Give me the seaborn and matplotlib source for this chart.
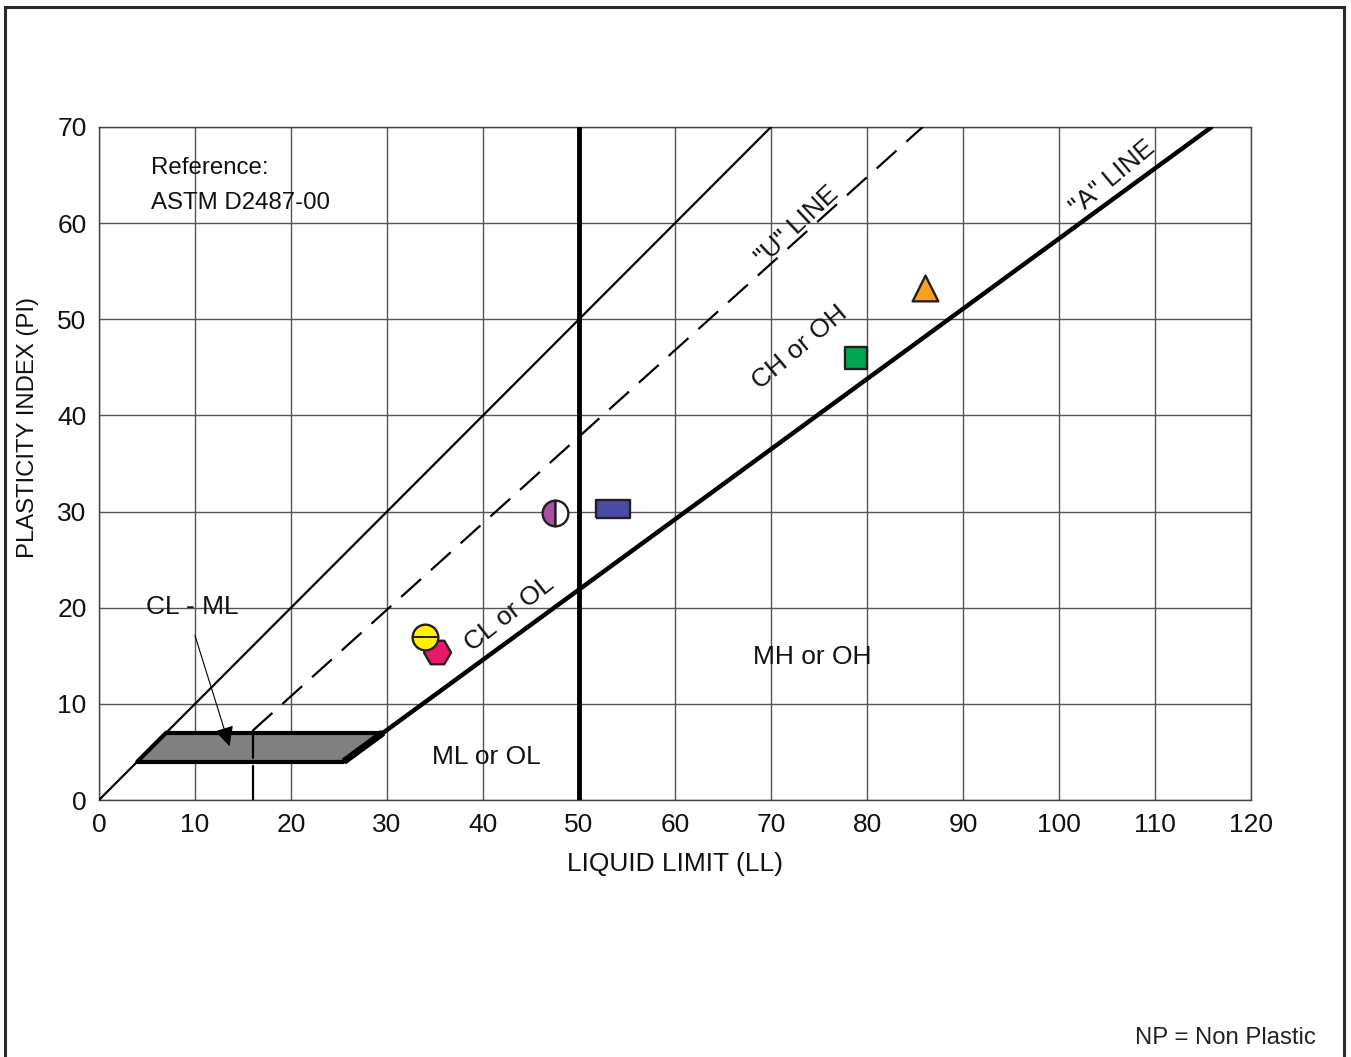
import matplotlib
matplotlib.use("Agg")
import matplotlib.pyplot as plt
from matplotlib.patches import Polygon, Rectangle
import seaborn as sns
import pandas as pd

# ---------------- data ----------------
x_ticks = [0, 10, 20, 30, 40, 50, 60, 70, 80, 90, 100, 110, 120]
y_ticks = [0, 10, 20, 30, 40, 50, 60, 70]

# sample points (LL, PI)
sample_ll = [34.0, 35.2, 47.5, 53.5, 78.9, 86.0]
sample_pi = [17.0, 15.4, 29.9, 30.3, 46.0, 53.3]
sample_names = ["yellow", "hexagon", "half", "rect", "square", "triangle"]

# reference line end points
ll_line_x = [0, 70]          # PI = LL line
ll_line_y = [0, 70]
u_line_x = [16, 85.8]        # "U" line
u_line_y = [7.2, 70]
u_vert_x = [16, 16, 16, 16]  # vertical part of U line (two dashes)
u_vert_y = [0, 3.5, 4.4, 7.2]
a_line_x = [25.5, 115.9]     # "A" line
a_line_y = [4, 70]
a_low_x = [25.5, 29.6]
a_low_y = [4, 7]
ll50_x = [50, 50]
ll50_y = [0, 70]
clml_x = [4, 7, 29.6, 25.5]  # CL-ML zone
clml_y = [4, 7, 7, 4]

# ---------------- style ----------------
sns.set_theme(style="white")
plt.rcParams["font.family"] = ["Liberation Sans", "DejaVu Sans"]
FS = 19

fig = plt.figure(figsize=(13.51, 10.57), dpi=100)
ax = fig.add_axes([99 / 1351, 1 - 800 / 1057, (1251 - 99) / 1351, (800 - 127) / 1057])

ax.set_xlim(0, 120)
ax.set_ylim(0, 70)
ax.set_xticks(x_ticks)
ax.set_yticks(y_ticks)
ax.tick_params(axis="both", length=0, pad=9, labelsize=FS, colors="#111111")
ax.grid(True, color="#555555", linewidth=1.0)
ax.set_axisbelow(True)
for sp in ax.spines.values():
    sp.set_color("#444444")
    sp.set_linewidth(1.0)

# CL-ML zone
poly = Polygon(list(zip(clml_x, clml_y)), closed=True, facecolor="#808080",
               edgecolor="none", zorder=2)
ax.add_patch(poly)
ax.plot([clml_x[0], clml_x[3]], [clml_y[0], clml_y[3]], color="black", lw=3, zorder=3, solid_capstyle="butt")
ax.plot([clml_x[1], clml_x[2]], [clml_y[1], clml_y[2]], color="black", lw=3, zorder=3, solid_capstyle="butt")
ax.plot([clml_x[0], clml_x[1]], [clml_y[0], clml_y[1]], color="black", lw=3, zorder=3)

# reference lines
ax.plot(ll_line_x, ll_line_y, color="black", lw=1.6, zorder=3)
ax.plot(u_line_x, u_line_y, color="black", lw=1.6, dashes=(12, 6), zorder=3)
ax.plot(u_vert_x[:2], u_vert_y[:2], color="black", lw=1.6, zorder=3)
ax.plot(u_vert_x[2:], u_vert_y[2:], color="black", lw=1.6, zorder=3)
ax.plot(a_line_x, a_line_y, color="black", lw=3.2, zorder=3)
ax.plot(a_low_x, a_low_y, color="black", lw=5, zorder=3, solid_capstyle="butt")
ax.plot(ll50_x, ll50_y, color="black", lw=3.5, zorder=3)

# sample markers
edge = "#231f20"
df = pd.DataFrame({"LL": sample_ll, "PI": sample_pi, "name": sample_names})
rect_marker = [(-1, -0.5), (1, -0.5), (1, 0.5), (-1, 0.5), (-1, -0.5)]
specs = {
    "hexagon": dict(marker="H", s=19.5 ** 2, color="#e8196a"),
    "rect": dict(marker=rect_marker, s=25 ** 2, color="#4a4ca3"),
    "square": dict(marker="s", s=16.5 ** 2, color="#00a651"),
    "triangle": dict(marker="^", s=18.5 ** 2, color="#f7a11c"),
}
for name, sp in specs.items():
    sub = df[df["name"] == name]
    sns.scatterplot(data=sub, x="LL", y="PI", ax=ax, marker=sp["marker"], s=sp["s"],
                    color=sp["color"], edgecolor=edge, linewidth=1.7, zorder=5, legend=False)

# yellow circle with a horizontal bar
y_row = df[df["name"] == "yellow"]
sns.scatterplot(data=y_row, x="LL", y="PI", ax=ax, marker="o", s=18.5 ** 2, color="#fff200",
                edgecolor=edge, linewidth=1.7, zorder=6, legend=False)
ax.plot(y_row["LL"], y_row["PI"], marker="_", ms=17.5, mew=1.4, color=edge, ls="none", zorder=7)
# half filled circle
h_row = df[df["name"] == "half"]
ax.plot(h_row["LL"], h_row["PI"], marker="o", ms=18.5, fillstyle="left", markerfacecolor="#a94ea6",
        markerfacecoloralt="white", markeredgecolor=edge, mew=1.7, ls="none", zorder=6)

ax.set_xlabel("LIQUID LIMIT (LL)", fontsize=FS, labelpad=11, color="#111111")
ax.set_ylabel("")
fig.text(28 / 1351, 1 - 428 / 1057, "PLASTICITY INDEX (PI)", rotation=90, ha="center", va="center",
         fontsize=17.2, color="#111111")

# annotations
txt = dict(fontsize=FS, color="#111111", zorder=4)
ax.text(5.4, 65.7, "Reference:", ha="left", va="center", fontsize=17.3, color="#111111")
ax.text(5.4, 62.1, "ASTM D2487-00", ha="left", va="center", fontsize=17.3, color="#111111")
ax.text(9.7, 20.1, "CL - ML", ha="center", va="center", **txt)
ax.annotate("", xy=(13.6, 5.6), xytext=(10.0, 17.1),
            arrowprops=dict(arrowstyle="-|>", lw=0.8, color="black", mutation_scale=30,
                            shrinkA=0, shrinkB=0), zorder=4)
ax.text(42.8, 19.4, "CL or OL", ha="center", va="center", rotation=38, rotation_mode="anchor", **txt)
ax.text(73.0, 47.1, "CH or OH", ha="center", va="center", rotation=40, rotation_mode="anchor", **txt)
ax.text(72.7, 59.8, '"U" LINE', ha="center", va="center", rotation=43, rotation_mode="anchor", **txt)
ax.text(105.6, 64.7, '"A" LINE', ha="center", va="center", rotation=40, rotation_mode="anchor", **txt)
ax.text(74.3, 14.9, "MH or OH", ha="center", va="center", **txt)
ax.text(40.3, 4.5, "ML or OL", ha="center", va="center", **txt)

fig.text(1225 / 1351, 1 - 1038 / 1057, "NP = Non Plastic", ha="center", va="center",
         fontsize=17.2, color="#222222")

# figure border
border = Rectangle((5 / 1351, -0.02), (1344 - 5) / 1351, 1.02 - 6.5 / 1057, transform=fig.transFigure,
                   fill=False, edgecolor="#2a2a2a", linewidth=2.2, clip_on=False)
fig.patches.append(border)

fig.savefig("out.png", dpi=100)
